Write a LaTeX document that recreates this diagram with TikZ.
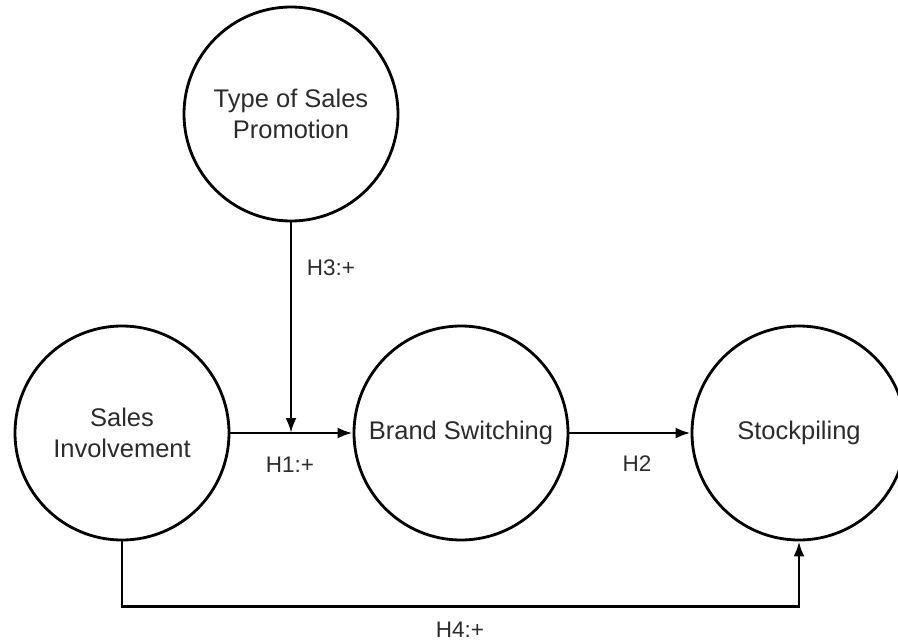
\documentclass[tikz,border=0pt]{standalone}
\usepackage{fontspec}
\setmainfont{Liberation Sans}
\usepackage{xcolor}
\usetikzlibrary{positioning,arrows.meta}
\definecolor{ink}{HTML}{2B2B2B}

\begin{document}
\begin{tikzpicture}[x=1pt,y=-1pt,
  construct/.style={circle,draw=black,line width=2.8pt,minimum size=214pt,inner sep=0pt,
    align=center,text=ink,font=\fontsize{25.5}{31}\selectfont},
  lbl/.style={text=ink,font=\fontsize{22.5}{26}\selectfont,inner sep=0pt},
  conn/.style={line width=2.8pt,-{Latex[length=15pt,width=11pt]}}]
  \useasboundingbox (0,0) rectangle (898,642);
  % constructs
  \node[construct] (tsp) at (291,114) {Type of Sales\\Promotion};
  \node[construct] (si) at (122,433) {Sales\\Involvement};
  \node[construct] (bs) at (461,433) {Brand Switching};
  \node[construct] (sp) at (799,433) {Stockpiling};
  \coordinate (mod) at (291,433);
  % paths
  \draw[conn] (si) -- (bs);
  \draw[conn] (tsp) -- (mod);
  \draw[conn] (bs) -- (sp);
  \draw[conn] (si.south) -- ++(0,65) -| (sp.south);
  % hypotheses
  \node[lbl] (h1) at (290,465) {H1:+};
  \node[lbl] (h2) at (637,464) {H2};
  \node[lbl] (h3) at (331,268) {H3:+};
  \node[lbl] (h4) at (460,630) {H4:+};
\end{tikzpicture}
\end{document}
